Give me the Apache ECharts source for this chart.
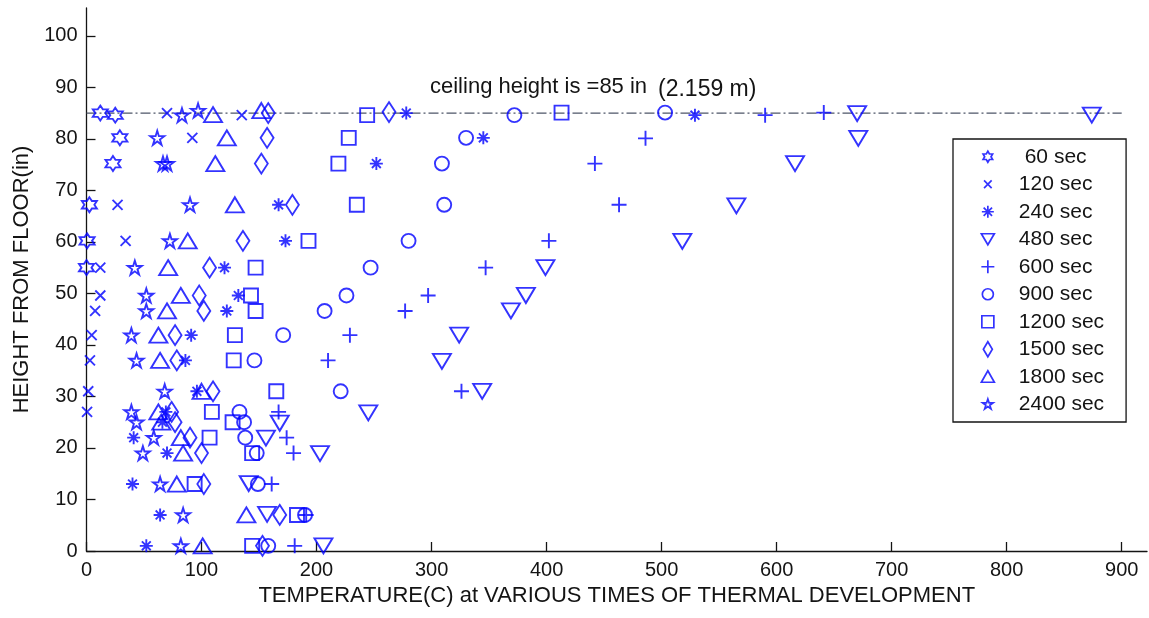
<!DOCTYPE html>
<html>
<head>
<meta charset="utf-8">
<script src="https://cdn.jsdelivr.net/npm/echarts@6/dist/echarts.min.js"></script>
<style>
  html, body { margin: 0; padding: 0; background: #ffffff; }
  #chart { width: 1149px; height: 618px; }
</style>
</head>
<body>
<div id="chart"></div>
<script>
// Axis ticks
const xTicks = [0, 100, 200, 300, 400, 500, 600, 700, 800, 900];
const yTicks = [0, 10, 20, 30, 40, 50, 60, 70, 80, 90, 100];

// Ceiling reference line (in) and its horizontal extent (C)
const ceilingHeight = 85;
const ceilingSpan = [0, 900];

// Measurements: [temperature (C), height from floor (in)]
const t60 = [[12,85],[25,84.6],[29,80.2],[23,75.2],[2.5,67.2],[0.5,60.2],[0,55]];
const t120 = [[70,85],[135,84.6],[92,80.2],[27,67.2],[34,60.2],[12,55],[12,49.6],[7.5,46.6],[4.5,41.9],[3,37],[1.5,31],[0.5,27]];
const t240 = [[278,85],[529,84.6],[345,80.2],[252,75.2],[167,67.2],[173,60.2],[120,55],[132,49.6],[122,46.6],[91,41.9],[86,37],[96,31],[69,27],[66,25],[41,22],[70,19],[40,13],[64,7],[52,1]];
const t480 = [[670,84.9],[874,84.6],[671,80.1],[616,75.2],[565,67],[518,60.1],[399,55],[382,49.6],[369,46.6],[324,41.9],[309,36.8],[344,31],[245,26.8],[168,24.8],[156,21.9],[203,18.9],[141,13.1],[157,7.1],[206,1]];
const t600 = [[590,84.6],[641,85.1],[486,80.1],[442,75.2],[463,67.2],[402,60.2],[347,55],[297,49.6],[277,46.6],[229,41.9],[210,37],[326,31],[167,27],[174,22],[180,19],[161,13],[191,7],[181,1]];
const t900 = [[372,84.6],[503,85.1],[330,80.2],[309,75.2],[311,67.2],[280,60.2],[247,55],[226,49.6],[207,46.6],[171,41.9],[146,37],[221,31],[133,27],[137,25],[138,22],[148,19],[149,13],[190,7],[158,1]];
const t1200 = [[244,84.6],[413,85.1],[228,80.2],[219,75.2],[235,67.2],[193,60.2],[147,55],[143,49.6],[147,46.6],[129,41.9],[128,37],[165,31],[109,27],[127,25],[107,22],[144,19],[94,13],[183,7],[144,1]];
const t1500 = [[158,85],[263,85.2],[157,80.2],[152,75.2],[179,67.2],[136,60.2],[107,55],[98,49.6],[102,46.6],[77,41.9],[78.5,37],[110,31],[74,27],[77,25],[90,22],[100,19],[102,13],[168,7],[153,1]];
const t1800 = [[110,84.7],[152,85.5],[122,80.2],[112,75.2],[129,67.2],[88,60.2],[71,55],[82,49.6],[70,46.6],[62.5,41.9],[64,37],[100,31],[62.5,27],[65,25],[82,22],[84,19],[78.5,13],[139,7],[101,1]];
const t2400 = [[83,84.6],[97,85.5],[61.5,80.2],[66.5,75.2],[70,75.2],[90,67.2],[72.5,60.2],[42,55],[52,49.6],[52,46.6],[39,41.9],[43.5,37],[68,31],[39,27],[43.5,25],[58.5,22],[49,19],[64,13],[84,7],[82,1]];

// Star outline (points alternate between outer and inner radius)
function starD(points, cx, cy, outer, inner) {
  const n = points * 2;
  let d = '';
  for (let i = 0; i < n; i++) {
    const a = -Math.PI / 2 + i * Math.PI / points;
    const r = i % 2 === 0 ? outer : inner;
    d += (i === 0 ? 'M' : 'L') + (cx + r * Math.cos(a)).toFixed(2) + ',' + (cy + r * Math.sin(a)).toFixed(2);
  }
  return d + 'Z';
}

// Plot markers
const HEXAGRAM = 'path://' + starD(6, 50, 50, 50, 50 / Math.sqrt(3));
const PENTAGRAM = 'path://' + starD(5, 50, 50, 50, 19.1);
const CROSS = 'path://M0,0L10,10M10,0L0,10';
const PLUS = 'path://M5,0L5,10M0,5L10,5';
const ASTERISK = 'path://M5,0L5,10M0,5L10,5M1.6,1.6L8.4,8.4M8.4,1.6L1.6,8.4';
const TRI_DOWN = 'path://M0,0L10,0L5,8.5Z';

// Legend markers: drawn inside a fixed 150x150 frame so each glyph keeps its own size
const FRAME = 'M0,0M150,150';
const icon = d => 'path://' + FRAME + d;
const LEGEND_ICONS = [
  icon(starD(6, 75, 75, 55, 55 / Math.sqrt(3))),
  icon('M37,37L113,113M113,37L37,113'),
  icon('M75,15L75,135M15,75L135,75M33,33L117,117M117,33L33,117'),
  icon('M10,20L140,20L75,130Z'),
  icon('M75,10L75,140M10,75L140,75'),
  icon('M20,75A55,55 0 1,0 130,75A55,55 0 1,0 20,75Z'),
  icon('M15,15L135,15L135,135L15,135Z'),
  icon('M75,0L120,75L75,150L30,75Z'),
  icon('M75,15L140,130L10,130Z'),
  icon(starD(5, 75, 78, 55, 21))
];

const BLUE = '#0000ff';
const INK = '#141414';
const FONT = 'Liberation Sans, Arial, Helvetica, sans-serif';

const seriesDefs = [
  { name: ' 60 sec',  data: t60,   symbol: HEXAGRAM,   size: 15 },
  { name: '120 sec',  data: t120,  symbol: CROSS,      size: 10 },
  { name: '240 sec',  data: t240,  symbol: ASTERISK,   size: 13 },
  { name: '480 sec',  data: t480,  symbol: TRI_DOWN,   size: [18, 15] },
  { name: '600 sec',  data: t600,  symbol: PLUS,       size: 15 },
  { name: '900 sec',  data: t900,  symbol: 'circle',   size: 14 },
  { name: '1200 sec', data: t1200, symbol: 'rect',     size: 14 },
  { name: '1500 sec', data: t1500, symbol: 'diamond',  size: [13, 20] },
  { name: '1800 sec', data: t1800, symbol: 'triangle', size: [18, 15] },
  { name: '2400 sec', data: t2400, symbol: PENTAGRAM,  size: 14 }
];

const scatterSeries = seriesDefs.map(d => ({
  name: d.name,
  type: 'scatter',
  data: d.data,
  symbol: d.symbol,
  symbolSize: d.size,
  itemStyle: { color: 'rgba(0,0,0,0)', borderColor: BLUE, borderWidth: 1.9 },
  emphasis: { disabled: true },
  z: 3
}));

const ceilingSeries = {
  name: 'ceiling',
  type: 'line',
  data: [[ceilingSpan[0], ceilingHeight], [ceilingSpan[1], ceilingHeight]],
  symbol: 'none',
  lineStyle: { color: '#4e5668', width: 1.1, type: [10, 3, 2, 3] },
  silent: true,
  z: 2
};

const chart = echarts.init(document.getElementById('chart'), null, { renderer: 'canvas' });
chart.setOption({
  animation: false,
  backgroundColor: '#ffffff',
  grid: { left: 86.5, right: 2, top: 8, bottom: 67, containLabel: false },
  xAxis: {
    type: 'value',
    min: 0,
    max: 922,
    name: 'TEMPERATURE(C) at VARIOUS TIMES OF THERMAL DEVELOPMENT',
    nameLocation: 'middle',
    nameGap: 34,
    nameTextStyle: { fontFamily: FONT, fontSize: 22, color: INK },
    axisLine: { lineStyle: { color: INK, width: 1.3 } },
    axisTick: { inside: true, length: 9, customValues: xTicks, lineStyle: { color: INK, width: 1.3 } },
    axisLabel: { customValues: xTicks, margin: 9, fontFamily: FONT, fontSize: 20, color: INK },
    splitLine: { show: false }
  },
  yAxis: {
    type: 'value',
    min: 0,
    max: 105.4,
    name: 'HEIGHT FROM FLOOR(in)',
    nameLocation: 'middle',
    nameGap: 52,
    nameTextStyle: { fontFamily: FONT, fontSize: 22, color: INK },
    axisLine: { lineStyle: { color: INK, width: 1.3 } },
    axisTick: { inside: true, length: 9, customValues: yTicks, lineStyle: { color: INK, width: 1.3 } },
    axisLabel: { customValues: yTicks, margin: 9, fontFamily: FONT, fontSize: 20, color: INK },
    splitLine: { show: false }
  },
  legend: {
    orient: 'vertical',
    left: 953,
    top: 139,
    data: seriesDefs.map((d, i) => ({ name: d.name, icon: LEGEND_ICONS[i] })),
    itemWidth: 15,
    itemHeight: 15,
    itemGap: 6.5,
    padding: [7.25, 22, 7.25, 26.5],
    borderColor: INK,
    borderWidth: 1.3,
    backgroundColor: '#ffffff',
    selectedMode: false,
    itemStyle: { borderWidth: 1.7 },
    textStyle: { fontFamily: FONT, fontSize: 21, color: INK, padding: [0, 0, 0, 18.5] }
  },
  graphic: [
    { type: 'text', left: 430, top: 76, style: { text: 'ceiling height is =85 in', font: '22px ' + FONT, fill: INK } },
    { type: 'text', left: 658, top: 78, style: { text: '(2.159 m)', font: '23px ' + FONT, fill: INK } }
  ],
  series: [ceilingSeries].concat(scatterSeries)
});
</script>
</body>
</html>
